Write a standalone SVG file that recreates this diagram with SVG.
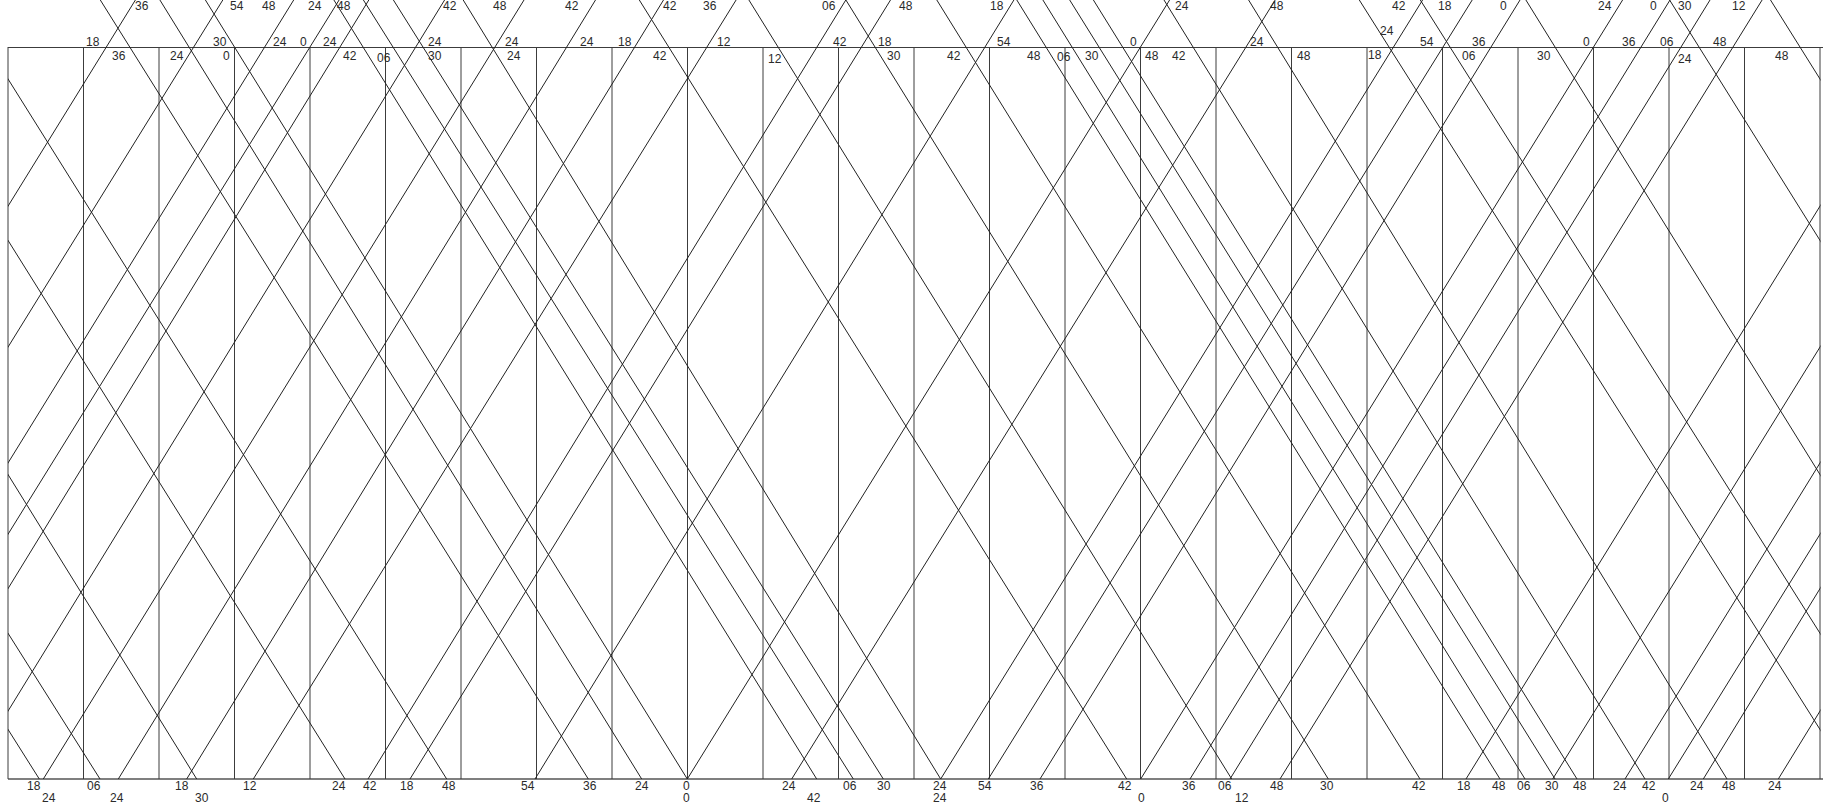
<svg xmlns="http://www.w3.org/2000/svg" width="1823" height="803" viewBox="0 0 1823 803">
<style>
.g{stroke:#3c3c3c;stroke-width:1;fill:none}
.t{stroke:#222;stroke-width:1;fill:none}
text{font-family:"Liberation Sans",Arial,sans-serif;font-size:12px;fill:#2a2a2a}
</style>
<defs>
<clipPath id="area"><rect x="8" y="0" width="1812.5" height="779"/></clipPath>
</defs>
<rect x="0" y="0" width="1823" height="803" fill="#fff"/>
<g id="grid">
<line class="g" x1="8" y1="47.5" x2="1823" y2="47.5"/>
<line class="g" x1="8" y1="779" x2="1823" y2="779" style="stroke-width:1.5;stroke:#555"/>
<line class="g" x1="8" y1="47" x2="8" y2="779"/>
<line class="g" x1="83.5" y1="47" x2="83.5" y2="779"/>
<line class="g" x1="159" y1="47" x2="159" y2="779"/>
<line class="g" x1="234.5" y1="47" x2="234.5" y2="779"/>
<line class="g" x1="310" y1="47" x2="310" y2="779"/>
<line class="g" x1="385.5" y1="47" x2="385.5" y2="779"/>
<line class="g" x1="461" y1="47" x2="461" y2="779"/>
<line class="g" x1="536.5" y1="47" x2="536.5" y2="779"/>
<line class="g" x1="612" y1="47" x2="612" y2="779"/>
<line class="g" x1="687.5" y1="47" x2="687.5" y2="779"/>
<line class="g" x1="763" y1="47" x2="763" y2="779"/>
<line class="g" x1="838.5" y1="47" x2="838.5" y2="779"/>
<line class="g" x1="914" y1="47" x2="914" y2="779"/>
<line class="g" x1="989.5" y1="47" x2="989.5" y2="779"/>
<line class="g" x1="1065" y1="47" x2="1065" y2="779"/>
<line class="g" x1="1140.5" y1="47" x2="1140.5" y2="779"/>
<line class="g" x1="1216" y1="47" x2="1216" y2="779"/>
<line class="g" x1="1291.5" y1="47" x2="1291.5" y2="779"/>
<line class="g" x1="1367" y1="47" x2="1367" y2="779"/>
<line class="g" x1="1442.5" y1="47" x2="1442.5" y2="779"/>
<line class="g" x1="1518" y1="47" x2="1518" y2="779"/>
<line class="g" x1="1593.5" y1="47" x2="1593.5" y2="779"/>
<line class="g" x1="1669" y1="47" x2="1669" y2="779"/>
<line class="g" x1="1744.5" y1="47" x2="1744.5" y2="779"/>
<line class="g" x1="1820" y1="47" x2="1820" y2="779"/>
</g>
<g id="connectors" clip-path="url(#area)">
<g id="up-trains">
<line class="t" x1="43.3" y1="779" x2="524" y2="0"/>
<line class="t" x1="118.3" y1="779" x2="595.5" y2="0"/>
<line class="t" x1="186.7" y1="779" x2="663.5" y2="0"/>
<line class="t" x1="253.3" y1="779" x2="736.1" y2="0"/>
<line class="t" x1="368" y1="779" x2="845.8" y2="0"/>
<line class="t" x1="410" y1="779" x2="890.5" y2="0"/>
<line class="t" x1="535" y1="779" x2="1013.9" y2="0"/>
<line class="t" x1="687.3" y1="779" x2="1169.6" y2="0"/>
<line class="t" x1="791.7" y1="779" x2="1275.2" y2="0"/>
<line class="t" x1="940.7" y1="779" x2="1422.6" y2="0"/>
<line class="t" x1="988.3" y1="779" x2="1472.2" y2="0"/>
<line class="t" x1="1040" y1="779" x2="1520" y2="0"/>
<line class="t" x1="1140.7" y1="779" x2="1622.6" y2="0"/>
<line class="t" x1="1190" y1="779" x2="1670" y2="0"/>
<line class="t" x1="1230" y1="779" x2="1710" y2="0"/>
<line class="t" x1="1280" y1="779" x2="1762.1" y2="0"/>
<line class="t" x1="1466" y1="779" x2="1947.4" y2="0"/>
<line class="t" x1="-346" y1="779" x2="135.4" y2="0"/>
<line class="t" x1="1552.7" y1="779" x2="2034.8" y2="0"/>
<line class="t" x1="-259.3" y1="779" x2="222.8" y2="0"/>
<line class="t" x1="1625" y1="779" x2="2105.7" y2="0"/>
<line class="t" x1="-187" y1="779" x2="293.7" y2="0"/>
<line class="t" x1="1668.3" y1="779" x2="2151.1" y2="0"/>
<line class="t" x1="-143.7" y1="779" x2="339.1" y2="0"/>
<line class="t" x1="1703.3" y1="779" x2="2180.8" y2="0"/>
<line class="t" x1="-108.7" y1="779" x2="368.8" y2="0"/>
<line class="t" x1="1778.3" y1="779" x2="2256.6" y2="0"/>
<line class="t" x1="-33.7" y1="779" x2="444.6" y2="0"/>
</g>
<g id="down-trains">
<line class="t" x1="100.3" y1="0" x2="588.3" y2="779"/>
<line class="t" x1="159.9" y1="0" x2="641.7" y2="779"/>
<line class="t" x1="205.4" y1="0" x2="687.3" y2="779"/>
<line class="t" x1="333.9" y1="0" x2="816.7" y2="779"/>
<line class="t" x1="363.4" y1="0" x2="853.3" y2="779"/>
<line class="t" x1="393.4" y1="0" x2="883.3" y2="779"/>
<line class="t" x1="463.2" y1="0" x2="940.7" y2="779"/>
<line class="t" x1="639.3" y1="0" x2="1126.7" y2="779"/>
<line class="t" x1="748.9" y1="0" x2="1231.7" y2="779"/>
<line class="t" x1="845.9" y1="0" x2="1328.3" y2="779"/>
<line class="t" x1="936.8" y1="0" x2="1420" y2="779"/>
<line class="t" x1="1016.8" y1="0" x2="1500" y2="779"/>
<line class="t" x1="1042.9" y1="0" x2="1525" y2="779"/>
<line class="t" x1="1069.7" y1="0" x2="1555" y2="779"/>
<line class="t" x1="1093.4" y1="0" x2="1577" y2="779"/>
<line class="t" x1="1164" y1="0" x2="1645" y2="779"/>
<line class="t" x1="1248.6" y1="0" x2="1727" y2="779"/>
<line class="t" x1="1359.3" y1="0" x2="1851.3" y2="779"/>
<line class="t" x1="-452.7" y1="0" x2="39.3" y2="779"/>
<line class="t" x1="1420.3" y1="0" x2="1912" y2="779"/>
<line class="t" x1="-391.7" y1="0" x2="100" y2="779"/>
<line class="t" x1="1525.9" y1="0" x2="2008.7" y2="779"/>
<line class="t" x1="-286.1" y1="0" x2="196.7" y2="779"/>
<line class="t" x1="1669.6" y1="0" x2="2157" y2="779"/>
<line class="t" x1="-142.4" y1="0" x2="345" y2="779"/>
<line class="t" x1="1770.5" y1="0" x2="2258.7" y2="779"/>
<line class="t" x1="-41.5" y1="0" x2="446.7" y2="779"/>
</g>
</g>
<g id="labels-top-row">
<text x="135" y="10">36</text><text x="230" y="10">54</text><text x="262" y="10">48</text><text x="308" y="10">24</text><text x="337" y="10">48</text><text x="443" y="10">42</text><text x="493" y="10">48</text><text x="565" y="10">42</text><text x="663" y="10">42</text><text x="703" y="10">36</text><text x="822" y="10">06</text><text x="899" y="10">48</text><text x="990" y="10">18</text><text x="1175" y="10">24</text><text x="1270" y="10">48</text><text x="1392" y="10">42</text><text x="1438" y="10">18</text><text x="1500" y="10">0</text><text x="1598" y="10">24</text><text x="1650" y="10">0</text><text x="1678" y="10">30</text><text x="1732" y="10">12</text>
</g>
<g id="labels-arrive">
<text x="86" y="45.5">18</text><text x="213" y="45.5">30</text><text x="273" y="45.5">24</text><text x="300" y="45.5">0</text><text x="323" y="45.5">24</text><text x="428" y="45.5">24</text><text x="505" y="45.5">24</text><text x="580" y="45.5">24</text><text x="618" y="45.5">18</text><text x="717" y="45.5">12</text><text x="833" y="45.5">42</text><text x="878" y="45.5">18</text><text x="997" y="45.5">54</text><text x="1130" y="45.5">0</text><text x="1250" y="45.5">24</text><text x="1380" y="35">24</text><text x="1420" y="45.5">54</text><text x="1472" y="45.5">36</text><text x="1583" y="45.5">0</text><text x="1622" y="45.5">36</text><text x="1660" y="45.5">06</text><text x="1713" y="45.5">48</text>
</g>
<g id="labels-depart">
<text x="112" y="59.5">36</text><text x="170" y="59.5">24</text><text x="223" y="59.5">0</text><text x="343" y="59.5">42</text><text x="377" y="61.5">06</text><text x="428" y="59.5">30</text><text x="507" y="59.5">24</text><text x="653" y="59.5">42</text><text x="768" y="63">12</text><text x="887" y="59.5">30</text><text x="947" y="59.5">42</text><text x="1027" y="59.5">48</text><text x="1057" y="60.5">06</text><text x="1085" y="59.5">30</text><text x="1145" y="59.5">48</text><text x="1172" y="59.5">42</text><text x="1297" y="59.5">48</text><text x="1368" y="59">18</text><text x="1462" y="59.5">06</text><text x="1537" y="59.5">30</text><text x="1678" y="62.5">24</text><text x="1775" y="59.5">48</text>
</g>
<g id="labels-bottom">
<text x="27" y="790">18</text><text x="87" y="790">06</text><text x="175" y="790">18</text><text x="243" y="790">12</text><text x="332" y="790">24</text><text x="363" y="790">42</text><text x="400" y="790">18</text><text x="442" y="790">48</text><text x="521" y="790">54</text><text x="583" y="790">36</text><text x="635" y="790">24</text><text x="683" y="790">0</text><text x="782" y="790">24</text><text x="843" y="790">06</text><text x="877" y="790">30</text><text x="933" y="790">24</text><text x="978" y="790">54</text><text x="1030" y="790">36</text><text x="1118" y="790">42</text><text x="1182" y="790">36</text><text x="1218" y="790">06</text><text x="1270" y="790">48</text><text x="1320" y="790">30</text><text x="1412" y="790">42</text><text x="1457" y="790">18</text><text x="1492" y="790">48</text><text x="1517" y="790">06</text><text x="1545" y="790">30</text><text x="1573" y="790">48</text><text x="1613" y="790">24</text><text x="1642" y="790">42</text><text x="1690" y="790">24</text><text x="1722" y="790">48</text><text x="1768" y="790">24</text>
<text x="42" y="801.5">24</text><text x="110" y="801.5">24</text><text x="195" y="801.5">30</text><text x="683" y="801.5">0</text><text x="807" y="801.5">42</text><text x="933" y="801.5">24</text><text x="1138" y="801.5">0</text><text x="1235" y="801.5">12</text><text x="1662" y="801.5">0</text>
</g>
</svg>
